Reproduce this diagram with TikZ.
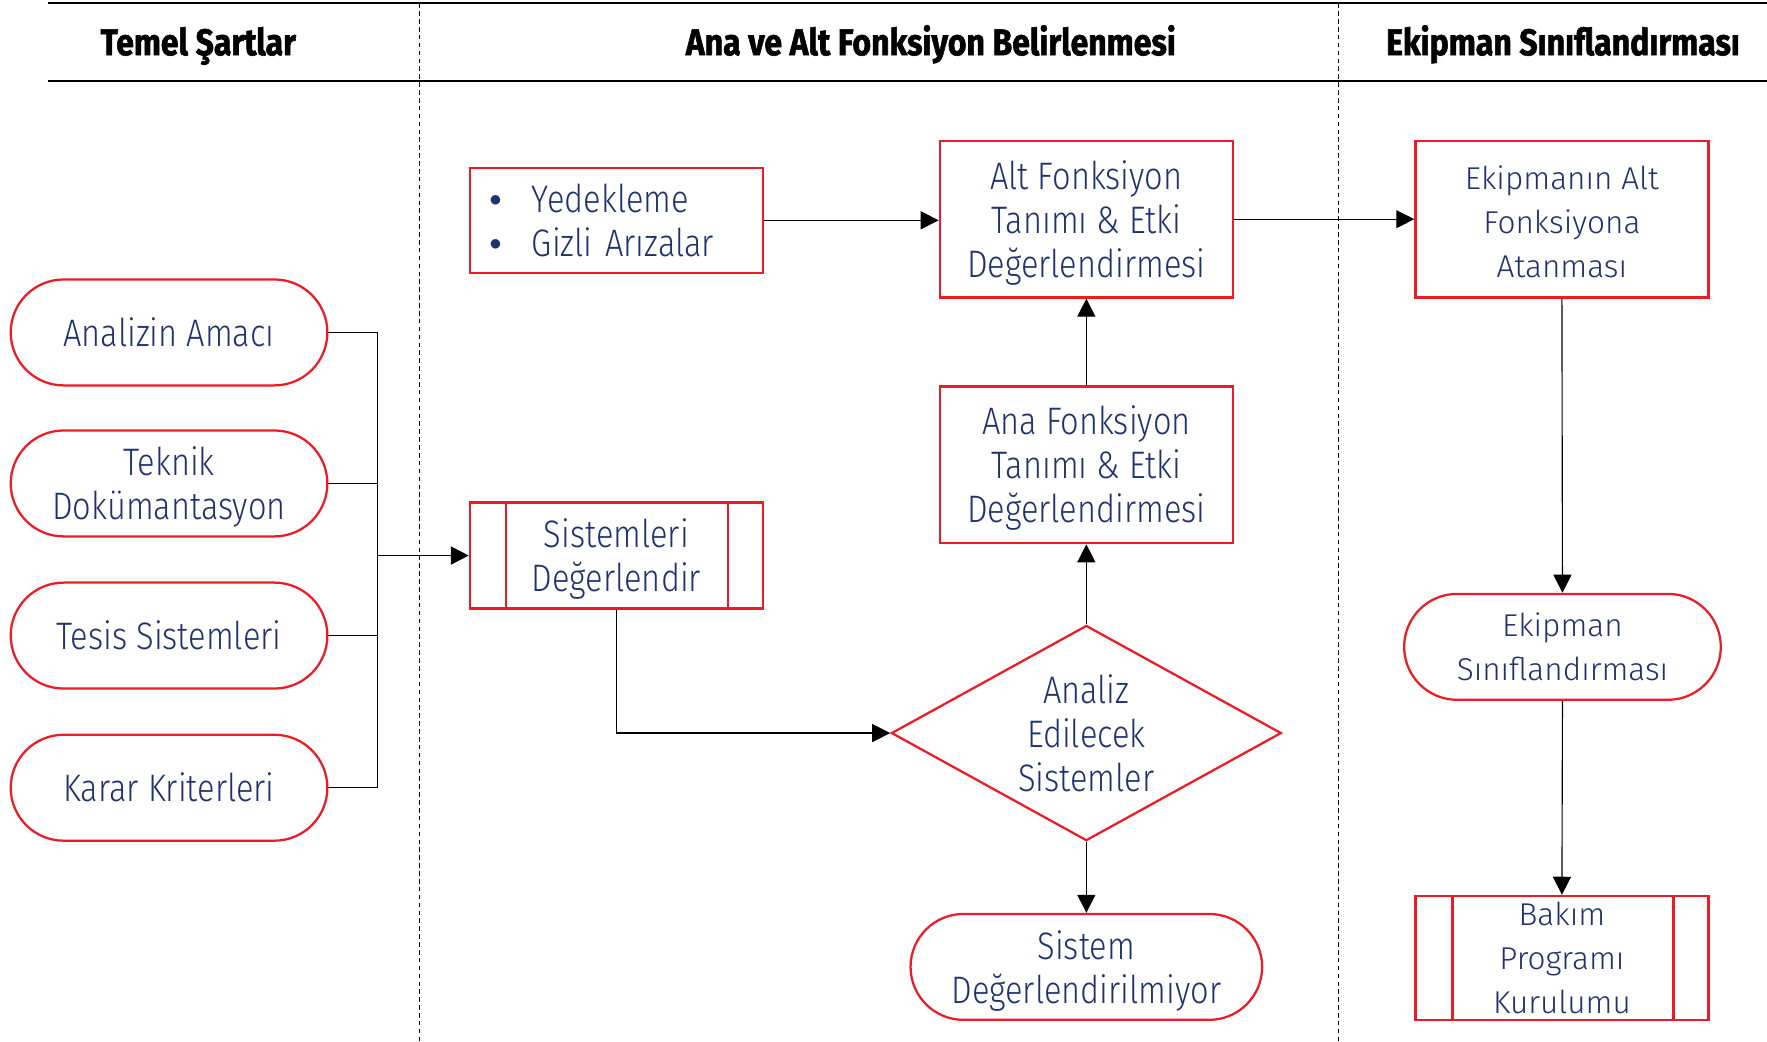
\documentclass[tikz,border=0pt]{standalone}
\usepackage{fontspec}
\setmainfont{Fira Sans Light}[FakeStretch=0.85]
\newfontfamily\headfont{Fira Sans}[FakeStretch=0.86,FakeBold=1.5]
\newfontfamily\widefont{Fira Sans Light}[FakeStretch=1.0]
\newfontfamily\dejavu{DejaVu Sans}
\usetikzlibrary{arrows.meta,shapes.misc,shapes.geometric,calc}
\definecolor{bred}{RGB}{237,28,36}
\definecolor{navy}{RGB}{30,50,110}
\newcommand{\bul}{\makebox[17.5pt][l]{\hspace*{-1pt}\raisebox{3.9pt}{\dejavu\fontsize{5.5}{5.5}\selectfont ●}}}
\newcommand{\topstrut}[1]{\rule{0pt}{#1}}
\tikzset{
  base/.style={inner sep=0pt, align=center, text=navy, font=\fontsize{17}{19.5}\selectfont, draw=bred, line width=1pt},
  wide/.style={font=\widefont\fontsize{14}{19.5}\selectfont},
  box/.style={base, rectangle, minimum width=130pt, minimum height=69.5pt},
  term/.style={base, rounded rectangle, minimum width=140.5pt, minimum height=47pt},
  redline/.style={draw=bred, line width=1pt},
  conn/.style={line width=0.5pt},
  arr/.style={-{Triangle[length=8pt,width=8pt]}, line width=0.5pt},
  head/.style={font=\headfont\bfseries\fontsize{16.5}{19}\selectfont, text=black, inner sep=0pt, anchor=base},
  sep/.style={dash pattern=on 2pt off 1.5pt, line width=0.4pt},
}
\begin{document}
\begin{tikzpicture}[x=0.5pt,y=-0.5pt]
\useasboundingbox (0,0) rectangle (1568,924);
% header
\draw[line width=0.8pt] (43,3) -- (1568,3);
\draw[line width=0.8pt] (43,72) -- (1568,72);
\draw[sep] (372,3) -- (372,924);
\draw[sep] (1188,3) -- (1188,924);
\node[head] (h1) at (176,49) {Temel Şartlar};
\node[head] (h2) at (826,49) {Ana ve Alt Fonksiyon Belirlenmesi};
\node[head] (h3) at (1387,49) {Ekipman Sınıflandırması};
% left column
\node[term] (a1) at (150,295) {Analizin Amacı};
\node[term] (a2) at (150,429) {\topstrut{16pt}Teknik\\Dokümantasyon};
\node[term] (a3) at (150,564) {Tesis Sistemleri};
\node[term] (a4) at (150,699) {Karar Kriterleri};
% middle column
\node[base, rectangle, minimum width=130pt, minimum height=47pt] (sd) at (547,493) {\topstrut{15.5pt}Sistemleri\\Değerlendir};
\draw[redline] ($(sd.north west)+(33,0)$) -- ($(sd.south west)+(33,0)$);
\draw[redline] ($(sd.north east)+(-32,0)$) -- ($(sd.south east)+(-32,0)$);
\node[base, rectangle, align=left, text width=110pt, inner xsep=10pt, minimum height=46.5pt] (yg) at (547,195.5)
  {\bul Yedekleme\\\bul Gizli Arızalar};
\node[box] (alt) at (964,194.5) {\topstrut{16pt}Alt Fonksiyon\\Tanımı \& Etki\\Değerlendirmesi};
\node[box] (ana) at (964,412.5) {\topstrut{15.5pt}Ana Fonksiyon\\Tanımı \& Etki\\Değerlendirmesi};
\node[base, diamond, shape aspect=1.81, minimum width=173pt, minimum height=95.5pt] (dia) at (964,650.5) {Analiz\\Edilecek\\Sistemler};
\node[term, minimum width=156pt] (sdm) at (964,858) {\topstrut{16.5pt}Sistem\\Değerlendirilmiyor};
% right column
\node[box, wide] (eat) at (1386,194.5) {\topstrut{12.5pt}Ekipmanın Alt\\Fonksiyona\\Atanması};
\node[term, wide] (eks) at (1386.5,574) {Ekipman\\Sınıflandırması};
\node[base, wide, rectangle, minimum width=130pt, minimum height=55pt] (bpk) at (1386,850) {Bakım\\Programı\\Kurulumu};
\draw[redline] ($(bpk.north west)+(34,0)$) -- ($(bpk.south west)+(34,0)$);
\draw[redline] ($(bpk.north east)+(-32,0)$) -- ($(bpk.south east)+(-32,0)$);
% connectors
\coordinate (bx) at (335,0);
\draw[conn] (a1.east) -- (a1.east -| bx) -- (a4.east -| bx) -- (a4.east);
\draw[conn] (a2.east) -- (a2.east -| bx);
\draw[conn] (a3.east) -- (a3.east -| bx);
\draw[arr, line width=0.8pt] (sd.west -| bx) -- (sd.west);
\draw[arr] (yg.east) -- (yg.east -| alt.west);
\draw[arr] (ana.north) -- (alt.south);
\draw[arr] (dia.north) -- (ana.south);
\draw[arr] (sd.south) |- (dia.west);
\draw[arr] (dia.south) -- (sdm.north);
\draw[arr] (alt.east) -- (eat.west);
\draw[arr] (eat.south) -- (eks.north);
\draw[arr] (eks.south) -- (bpk.north);
\end{tikzpicture}
\end{document}
